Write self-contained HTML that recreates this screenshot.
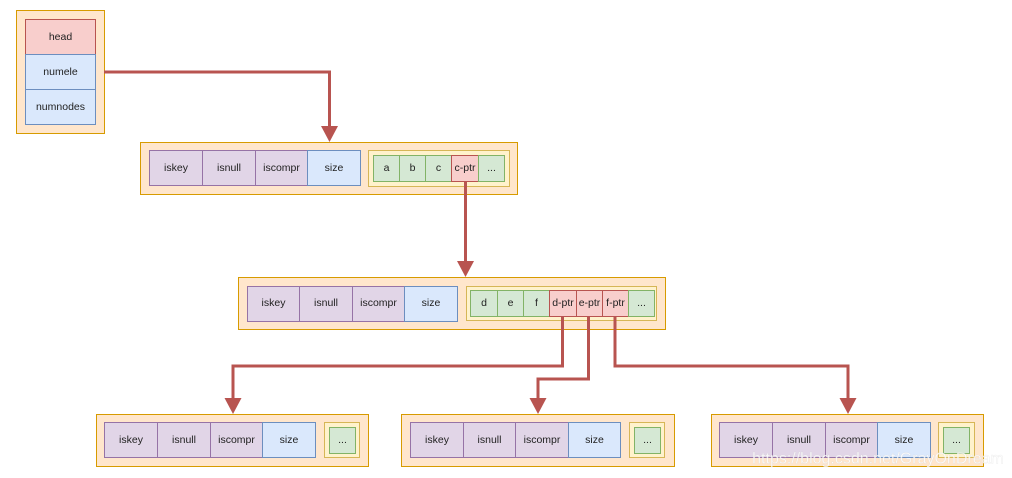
<!DOCTYPE html>
<html><head><meta charset="utf-8"><style>
html,body{margin:0;padding:0;background:#fff;}
svg{display:block;}
text{font-family:"Liberation Sans",Arial,sans-serif;font-size:10.5px;fill:#222;text-anchor:middle;dominant-baseline:central;}
.o{fill:#ffe6cc;stroke:#d79b00;}
.p{fill:#e1d5e7;stroke:#9673a6;}
.b{fill:#dae8fc;stroke:#6c8ebf;}
.g{fill:#d5e8d4;stroke:#82b366;}
.r{fill:#f8cecc;stroke:#b85450;}
.y{fill:#fff2cc;stroke:#d6b656;}
.a{fill:none;stroke:#b85450;stroke-width:3;}
.h{fill:#b85450;}
</style></head><body>
<svg width="1012" height="478" viewBox="0 0 1012 478" xmlns="http://www.w3.org/2000/svg">
<rect class="o" x="16.5" y="10.5" width="88" height="123"/>
<rect class="r" x="25.5" y="19.5" width="70" height="35"/><text x="60.5" y="37">head</text>
<rect class="b" x="25.5" y="54.5" width="70" height="35"/><text x="60.5" y="72">numele</text>
<rect class="b" x="25.5" y="89.5" width="70" height="35"/><text x="60.5" y="107">numnodes</text>

<rect class="o" x="140.5" y="142.5" width="377" height="52"/>
<rect class="p" x="149.5" y="150.5" width="53" height="35"/><text x="176" y="168">iskey</text>
<rect class="p" x="202.5" y="150.5" width="53" height="35"/><text x="229" y="168">isnull</text>
<rect class="p" x="255.5" y="150.5" width="52" height="35"/><text x="281.5" y="168">iscompr</text>
<rect class="b" x="307.5" y="150.5" width="53" height="35"/><text x="334" y="168">size</text>
<rect class="y" x="368.5" y="150.5" width="141" height="36"/>
<rect class="g" x="373.5" y="155.5" width="26" height="26"/><text x="386.5" y="168">a</text>
<rect class="g" x="399.5" y="155.5" width="26" height="26"/><text x="412.5" y="168">b</text>
<rect class="g" x="425.5" y="155.5" width="26" height="26"/><text x="438.5" y="168">c</text>
<rect class="r" x="451.5" y="155.5" width="27" height="26"/><text x="465" y="168">c-ptr</text>
<rect class="g" x="478.5" y="155.5" width="26" height="26"/><text x="491.5" y="168">...</text>

<rect class="o" x="238.5" y="277.5" width="427" height="52"/>
<rect class="p" x="247.5" y="286.5" width="52" height="35"/><text x="273.5" y="303">iskey</text>
<rect class="p" x="299.5" y="286.5" width="53" height="35"/><text x="326" y="303">isnull</text>
<rect class="p" x="352.5" y="286.5" width="52" height="35"/><text x="378.5" y="303">iscompr</text>
<rect class="b" x="404.5" y="286.5" width="53" height="35"/><text x="431" y="303">size</text>
<rect class="y" x="466.5" y="286.5" width="190" height="34"/>
<rect class="g" x="470.5" y="290.5" width="27" height="26"/><text x="484" y="303">d</text>
<rect class="g" x="497.5" y="290.5" width="26" height="26"/><text x="510.5" y="303">e</text>
<rect class="g" x="523.5" y="290.5" width="26" height="26"/><text x="536.5" y="303">f</text>
<rect class="r" x="549.5" y="290.5" width="27" height="26"/><text x="563" y="303">d-ptr</text>
<rect class="r" x="576.5" y="290.5" width="26" height="26"/><text x="589.5" y="303">e-ptr</text>
<rect class="r" x="602.5" y="290.5" width="26" height="26"/><text x="615.5" y="303">f-ptr</text>
<rect class="g" x="628.5" y="290.5" width="26" height="26"/><text x="641.5" y="303">...</text>

<g>
<rect class="o" x="96.5" y="414.5" width="272" height="52"/>
<rect class="p" x="104.5" y="422.5" width="53" height="35"/><text x="131" y="440">iskey</text>
<rect class="p" x="157.5" y="422.5" width="53" height="35"/><text x="184" y="440">isnull</text>
<rect class="p" x="210.5" y="422.5" width="52" height="35"/><text x="236.5" y="440">iscompr</text>
<rect class="b" x="262.5" y="422.5" width="53" height="35"/><text x="289" y="440">size</text>
<rect class="y" x="324.5" y="422.5" width="35" height="35"/>
<rect class="g" x="329.5" y="427.5" width="26" height="26"/><text x="342.5" y="440">...</text>
</g>
<g>
<rect class="o" x="401.5" y="414.5" width="273" height="52"/>
<rect class="p" x="410.5" y="422.5" width="53" height="35"/><text x="437" y="440">iskey</text>
<rect class="p" x="463.5" y="422.5" width="52" height="35"/><text x="489.5" y="440">isnull</text>
<rect class="p" x="515.5" y="422.5" width="53" height="35"/><text x="542" y="440">iscompr</text>
<rect class="b" x="568.5" y="422.5" width="52" height="35"/><text x="594.5" y="440">size</text>
<rect class="y" x="629.5" y="422.5" width="35" height="35"/>
<rect class="g" x="634.5" y="427.5" width="26" height="26"/><text x="647.5" y="440">...</text>
</g>
<g>
<rect class="o" x="711.5" y="414.5" width="272" height="52"/>
<rect class="p" x="719.5" y="422.5" width="53" height="35"/><text x="746" y="440">iskey</text>
<rect class="p" x="772.5" y="422.5" width="53" height="35"/><text x="799" y="440">isnull</text>
<rect class="p" x="825.5" y="422.5" width="52" height="35"/><text x="851.5" y="440">iscompr</text>
<rect class="b" x="877.5" y="422.5" width="53" height="35"/><text x="904" y="440">size</text>
<rect class="y" x="938.5" y="422.5" width="36" height="35"/>
<rect class="g" x="943.5" y="427.5" width="26" height="26"/><text x="956.5" y="440">...</text>
</g>

<polyline class="a" points="104,72 329.5,72 329.5,130"/>
<polygon class="h" points="321,126 338,126 329.5,142"/>
<polyline class="a" points="465.5,181 465.5,266"/>
<polygon class="h" points="457,261 474,261 465.5,277"/>
<polyline class="a" points="562.5,316 562.5,366 233,366 233,403"/>
<polygon class="h" points="224.5,398 241.5,398 233,414"/>
<polyline class="a" points="588.5,316 588.5,379 538,379 538,403"/>
<polygon class="h" points="529.5,398 546.5,398 538,414"/>
<polyline class="a" points="615,316 615,366 848,366 848,403"/>
<polygon class="h" points="839.5,398 856.5,398 848,414"/>

<text x="878" y="459" style="font-size:16px;fill:#ffffff;fill-opacity:0.8;stroke:#ccc;stroke-width:0.3;stroke-opacity:0.5">https://blog.csdn.net/GrayOnDream</text>
</svg>
</body></html>
